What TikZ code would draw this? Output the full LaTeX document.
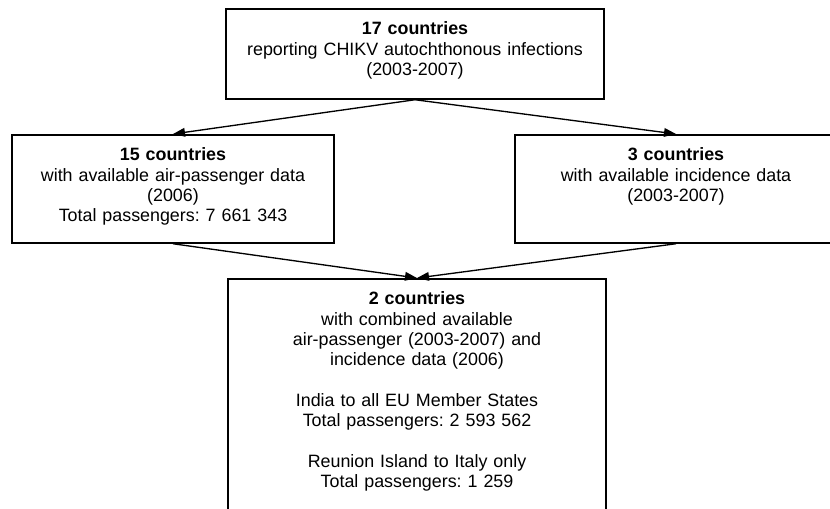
\documentclass[tikz,border=0pt]{standalone}
\usepackage{fontspec}
\setmainfont{Liberation Sans}
\frenchspacing
\usetikzlibrary{arrows.meta}
\tikzset{
  flowbox/.style={draw, line width=1.3pt, anchor=north, align=center,
    inner xsep=0pt, inner ysep=9.5pt, text height=10pt,
    font=\fontsize{13.4}{15.2}\selectfont},
  widebox/.style={flowbox, text width=283.5pt},
  sidebox/.style={flowbox, text width=241.5pt},
  flowarrow/.style={-{Triangle[length=9pt,width=6.5pt]}, line width=1pt}
}
\begin{document}
\begin{tikzpicture}[x=0.75pt, y=-0.75pt]
  \clip (0,0) rectangle (830,508);
  % boxes
  \node[widebox, text depth=38.5pt] (reporting) at (415,8)
    {\textbf{17 countries}\\ reporting CHIKV autochthonous infections\\ (2003-2007)};
  \node[sidebox, text depth=52pt] (airdata) at (173,134)
    {\textbf{15 countries}\\ with available air-passenger data\\ (2006)\\ Total passengers: 7 661 343};
  \node[sidebox, text depth=52pt] (incidence) at (676,134)
    {\textbf{3 countries}\\ with available incidence data\\ (2003-2007)};
  \node[widebox, text depth=152.5pt] (combined) at (417,278)
    {\textbf{2 countries}\\ with combined available\\ air-passenger (2003-2007) and\\ incidence data (2006)\\[15.2pt]
     India to all EU Member States\\ Total passengers: 2 593 562\\[15.2pt]
     Reunion Island to Italy only\\ Total passengers: 1 259};
  % arrows
  \draw[flowarrow] (reporting.south) -- (airdata.north);
  \draw[flowarrow] (reporting.south) -- (incidence.north);
  \draw[flowarrow] (airdata.south) -- (combined.north);
  \draw[flowarrow] (incidence.south) -- (combined.north);
\end{tikzpicture}
\end{document}
